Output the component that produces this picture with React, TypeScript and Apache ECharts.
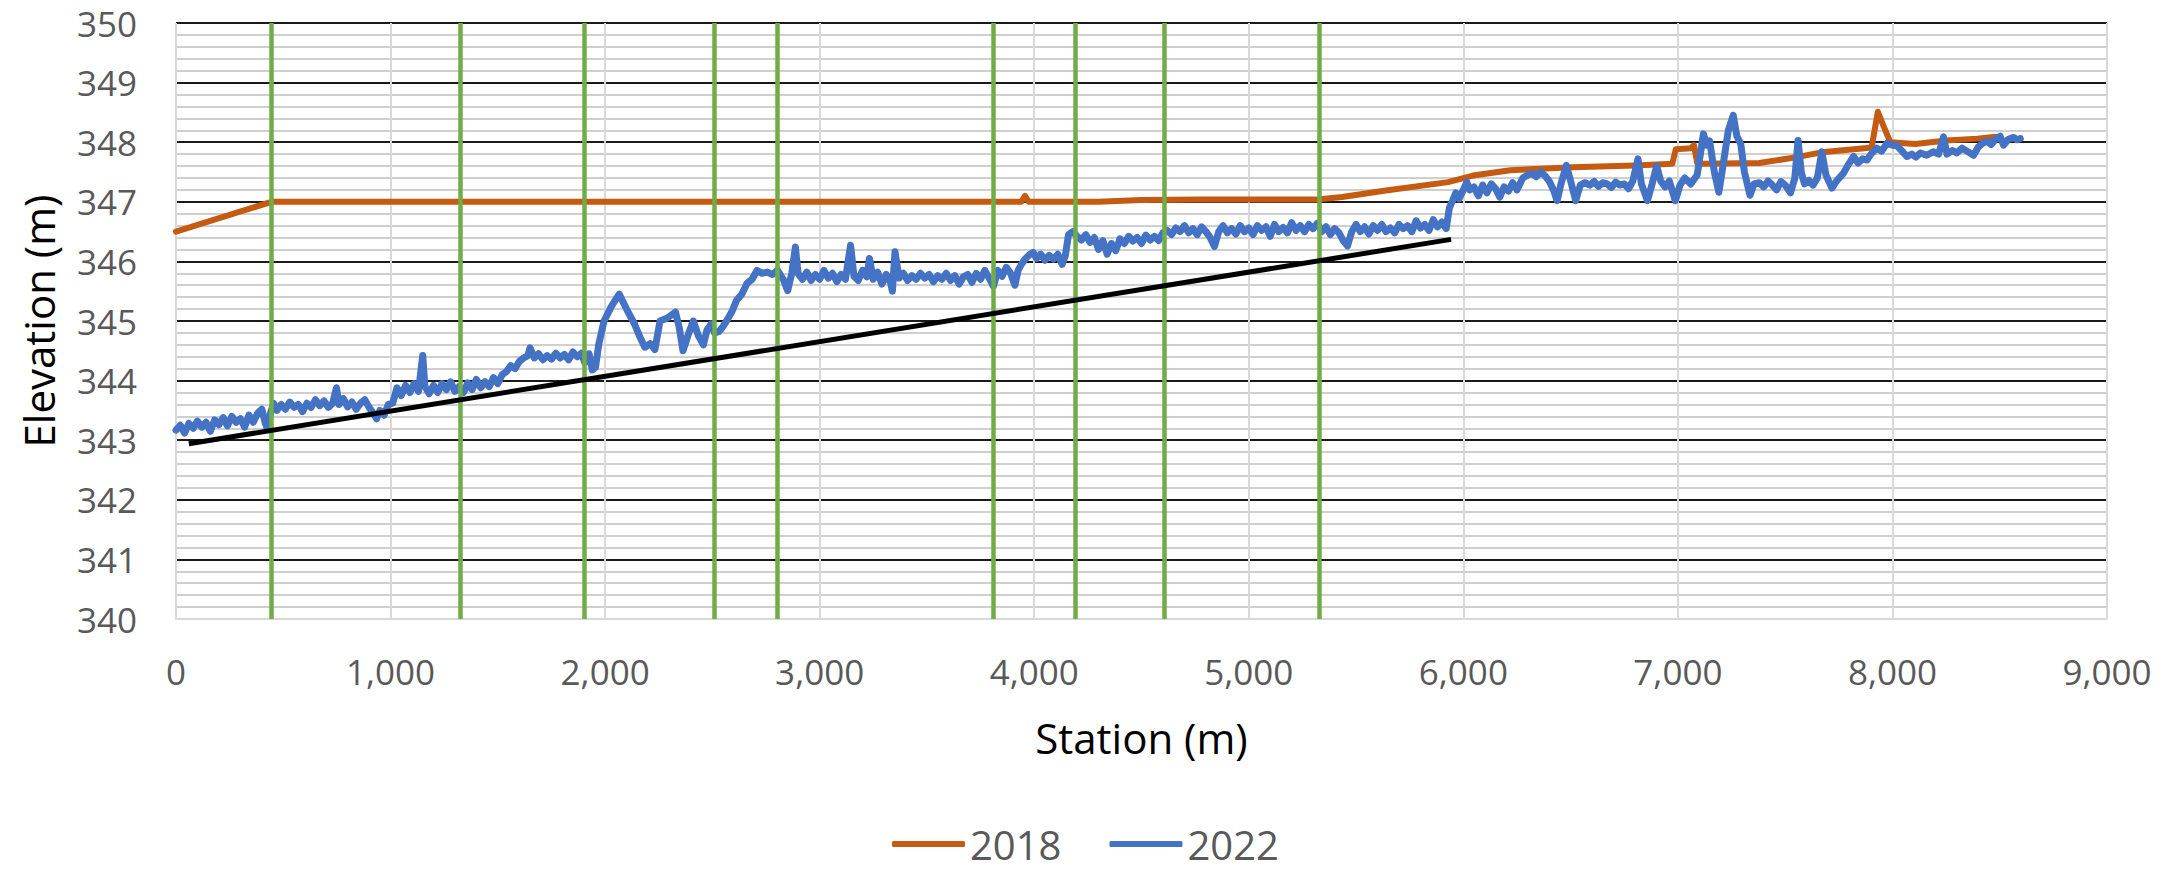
import React, { useEffect, useRef } from "react";
import * as echarts from "echarts";

// ---- Data ----
const yTicks = [340, 341, 342, 343, 344, 345, 346, 347, 348, 349, 350];
const xTicks = [0, 1000, 2000, 3000, 4000, 5000, 6000, 7000, 8000, 9000];

const markerStations = [445, 1325, 1905, 2508, 2804, 3810, 4189, 4608, 5328];

const gradeLine: [number, number][] = [
  [60, 342.94],
  [5943, 346.37],
];

const profile2018: [number, number][] = [
  [0, 346.5], [445, 347.0], [1000, 347.0], [2000, 347.0], [3000, 347.0],
  [3940, 347.0], [3957, 347.1], [3975, 347.0], [4300, 347.0], [4500, 347.03],
  [4770, 347.04], [5320, 347.04], [5435, 347.08], [5639, 347.19], [5929, 347.33],
  [6045, 347.44], [6219, 347.53], [6509, 347.58], [6800, 347.61], [6974, 347.64],
  [6990, 347.88], [7060, 347.9], [7075, 347.95], [7090, 347.65], [7119, 347.64],
  [7380, 347.65], [7554, 347.75], [7670, 347.83], [7845, 347.89], [7903, 347.91],
  [7932, 348.51], [7961, 348.25], [7990, 348.0], [8106, 347.97], [8251, 348.03],
  [8396, 348.06], [8480, 348.09],
];

const profile2022: [number, number][] = [
  [0, 343.17], [20, 343.25], [40, 343.12], [60, 343.28], [80, 343.2], [100, 343.32],
  [120, 343.22], [140, 343.3], [160, 343.15], [180, 343.34], [200, 343.26], [220, 343.38],
  [240, 343.24], [260, 343.4], [280, 343.3], [300, 343.36], [320, 343.22], [340, 343.42],
  [360, 343.3], [380, 343.45], [400, 343.52], [415, 343.3], [425, 343.2], [440, 343.45],
  [455, 343.62], [470, 343.5], [490, 343.6], [510, 343.52], [530, 343.64], [550, 343.55],
  [570, 343.6], [590, 343.48], [610, 343.62], [630, 343.55], [650, 343.68], [670, 343.58],
  [690, 343.66], [710, 343.55], [730, 343.62], [748, 343.88], [760, 343.6], [780, 343.7],
  [800, 343.56], [820, 343.64], [840, 343.52], [860, 343.62], [880, 343.68], [900, 343.55],
  [920, 343.45], [935, 343.36], [950, 343.5], [970, 343.42], [990, 343.6], [1010, 343.62],
  [1030, 343.88], [1050, 343.75], [1070, 343.92], [1090, 343.8], [1110, 343.95], [1130, 343.82],
  [1150, 344.42], [1160, 343.9], [1180, 343.78], [1200, 343.92], [1220, 343.8], [1240, 343.95],
  [1260, 343.85], [1280, 343.98], [1300, 343.82], [1320, 343.9], [1340, 343.8], [1360, 343.96],
  [1380, 343.85], [1400, 344.02], [1420, 343.88], [1440, 343.98], [1460, 343.9], [1480, 344.05],
  [1500, 343.95], [1520, 344.1], [1540, 344.15], [1560, 344.25], [1580, 344.2], [1600, 344.32],
  [1620, 344.38], [1640, 344.42], [1650, 344.55], [1670, 344.38], [1690, 344.45], [1710, 344.35],
  [1730, 344.42], [1750, 344.36], [1770, 344.46], [1790, 344.38], [1810, 344.44], [1830, 344.35],
  [1850, 344.48], [1870, 344.4], [1890, 344.46], [1905, 344.3], [1925, 344.45], [1940, 344.18],
  [1955, 344.22], [1970, 344.6], [1995, 345.0], [2030, 345.25], [2066, 345.45], [2100, 345.2],
  [2137, 344.95], [2160, 344.75], [2185, 344.56], [2210, 344.62], [2232, 344.52], [2256, 345.0],
  [2290, 345.05], [2328, 345.15], [2345, 344.9], [2363, 344.5], [2390, 344.8], [2411, 345.0],
  [2435, 344.75], [2458, 344.6], [2475, 344.85], [2494, 344.95], [2510, 344.8], [2530, 344.82],
  [2548, 344.9], [2566, 345.0], [2590, 345.15], [2613, 345.35], [2637, 345.45], [2661, 345.63],
  [2685, 345.7], [2708, 345.85], [2730, 345.8], [2756, 345.82], [2780, 345.78], [2804, 345.85],
  [2830, 345.7], [2851, 345.51], [2870, 345.8], [2887, 346.24], [2899, 345.8], [2920, 345.7],
  [2940, 345.82], [2960, 345.68], [2980, 345.78], [3000, 345.7], [3020, 345.85], [3040, 345.72],
  [3060, 345.8], [3080, 345.66], [3100, 345.78], [3120, 345.7], [3144, 346.27], [3160, 345.75],
  [3180, 345.68], [3200, 345.85], [3220, 345.74], [3232, 346.05], [3250, 345.7], [3270, 345.82],
  [3290, 345.62], [3310, 345.78], [3330, 345.65], [3339, 345.5], [3351, 346.16], [3370, 345.72],
  [3390, 345.8], [3410, 345.68], [3430, 345.76], [3450, 345.7], [3470, 345.8], [3490, 345.72],
  [3510, 345.78], [3530, 345.66], [3550, 345.76], [3570, 345.7], [3590, 345.8], [3610, 345.68],
  [3630, 345.76], [3650, 345.62], [3670, 345.74], [3690, 345.78], [3710, 345.65], [3730, 345.8],
  [3750, 345.7], [3770, 345.85], [3790, 345.72], [3810, 345.58], [3830, 345.85], [3850, 345.75],
  [3870, 345.9], [3890, 345.8], [3910, 345.6], [3925, 345.85], [3940, 345.95], [3960, 346.05],
  [3980, 346.12], [3995, 346.15], [4010, 346.05], [4030, 346.12], [4050, 346.02], [4070, 346.1],
  [4090, 346.04], [4110, 346.12], [4130, 345.95], [4145, 346.1], [4160, 346.45], [4180, 346.5],
  [4200, 346.42], [4220, 346.36], [4240, 346.45], [4260, 346.32], [4280, 346.4], [4300, 346.2],
  [4320, 346.35], [4340, 346.12], [4360, 346.3], [4380, 346.18], [4400, 346.38], [4420, 346.3],
  [4440, 346.42], [4460, 346.34], [4480, 346.4], [4500, 346.3], [4520, 346.44], [4540, 346.36],
  [4560, 346.42], [4580, 346.35], [4600, 346.48], [4620, 346.52], [4640, 346.45], [4660, 346.56],
  [4680, 346.5], [4700, 346.6], [4720, 346.48], [4740, 346.55], [4760, 346.45], [4780, 346.58],
  [4800, 346.5], [4820, 346.4], [4840, 346.25], [4860, 346.5], [4880, 346.6], [4900, 346.48],
  [4920, 346.55], [4940, 346.46], [4960, 346.6], [4980, 346.5], [5000, 346.56], [5020, 346.45],
  [5040, 346.6], [5060, 346.52], [5080, 346.58], [5100, 346.42], [5120, 346.62], [5140, 346.5],
  [5160, 346.57], [5180, 346.48], [5200, 346.65], [5220, 346.52], [5240, 346.6], [5260, 346.5],
  [5280, 346.62], [5300, 346.55], [5320, 346.64], [5340, 346.5], [5360, 346.58], [5380, 346.45],
  [5400, 346.55], [5420, 346.48], [5440, 346.35], [5460, 346.26], [5480, 346.5], [5500, 346.62],
  [5520, 346.5], [5540, 346.58], [5560, 346.46], [5580, 346.6], [5600, 346.52], [5620, 346.62],
  [5640, 346.5], [5660, 346.56], [5680, 346.48], [5700, 346.62], [5720, 346.55], [5740, 346.6],
  [5760, 346.5], [5780, 346.68], [5800, 346.56], [5820, 346.62], [5840, 346.52], [5860, 346.7],
  [5880, 346.58], [5900, 346.66], [5920, 346.55], [5935, 346.9], [5950, 347.02], [5965, 347.15],
  [5980, 347.05], [6000, 347.2], [6016, 347.33], [6030, 347.2], [6050, 347.25], [6070, 347.1],
  [6090, 347.28], [6110, 347.15], [6130, 347.3], [6150, 347.22], [6170, 347.08], [6190, 347.25],
  [6210, 347.18], [6230, 347.32], [6250, 347.2], [6277, 347.4], [6300, 347.45], [6320, 347.48],
  [6340, 347.42], [6360, 347.5], [6380, 347.44], [6400, 347.35], [6420, 347.2], [6437, 347.02],
  [6455, 347.3], [6480, 347.61], [6500, 347.35], [6524, 347.02], [6545, 347.28], [6567, 347.32],
  [6590, 347.28], [6610, 347.34], [6630, 347.26], [6650, 347.32], [6670, 347.3], [6690, 347.24],
  [6710, 347.33], [6730, 347.28], [6750, 347.3], [6770, 347.22], [6790, 347.35], [6814, 347.72],
  [6830, 347.3], [6858, 347.02], [6880, 347.3], [6901, 347.6], [6920, 347.35], [6940, 347.25],
  [6960, 347.35], [6988, 347.02], [7010, 347.28], [7032, 347.4], [7060, 347.3], [7090, 347.45],
  [7119, 348.14], [7135, 347.95], [7148, 348.02], [7170, 347.5], [7191, 347.16], [7210, 347.6],
  [7235, 348.2], [7258, 348.45], [7275, 348.1], [7293, 347.97], [7310, 347.5], [7336, 347.11],
  [7355, 347.3], [7380, 347.32], [7400, 347.25], [7420, 347.35], [7440, 347.28], [7460, 347.2],
  [7480, 347.34], [7500, 347.28], [7525, 347.15], [7545, 347.4], [7560, 348.03], [7575, 347.5],
  [7590, 347.3], [7610, 347.36], [7630, 347.28], [7650, 347.4], [7671, 347.84], [7690, 347.45],
  [7718, 347.23], [7740, 347.35], [7772, 347.48], [7790, 347.6], [7819, 347.76], [7840, 347.65],
  [7860, 347.72], [7881, 347.7], [7900, 347.8], [7927, 347.9], [7950, 347.85], [7974, 347.98],
  [8000, 347.95], [8021, 347.94], [8045, 347.85], [8067, 347.76], [8090, 347.8], [8110, 347.75],
  [8130, 347.82], [8160, 347.78], [8190, 347.84], [8215, 347.8], [8238, 348.09], [8254, 347.8],
  [8280, 347.86], [8300, 347.82], [8325, 347.9], [8347, 347.85], [8378, 347.78], [8400, 347.92],
  [8420, 347.98], [8440, 348.02], [8460, 347.96], [8480, 348.05], [8502, 348.1], [8518, 347.95],
  [8540, 348.05], [8565, 348.08], [8580, 348.04], [8596, 348.06],
];

const FONT = "'Open Sans', 'DejaVu Sans', sans-serif";

export default function App() {
  const ref = useRef<HTMLDivElement>(null);

  useEffect(() => {
    if (!ref.current) return;
    const chart = echarts.init(ref.current, undefined, { renderer: "svg" });
    const option: any = {
      animation: false,
      backgroundColor: "#ffffff",
      textStyle: { fontFamily: FONT },
      grid: {
        left: 176,
        right: 70,
        top: 23,
        bottom: 254,
        containLabel: false,
        outerBoundsMode: "none",
      },
      legend: {
        data: ["2018", "2022"],
        left: 892,
        top: 822,
        padding: 0,
        icon: "roundRect",
        itemWidth: 73,
        itemHeight: 6,
        itemGap: 48,
        textStyle: { fontFamily: FONT, fontSize: 40, lineHeight: 44, color: "#595959" },
      },
      xAxis: {
        type: "value",
        min: xTicks[0],
        max: xTicks[xTicks.length - 1],
        interval: 1000,
        name: "Station (m)",
        nameLocation: "middle",
        nameGap: 97,
        nameTextStyle: { fontFamily: FONT, fontSize: 42, color: "#000000" },
        axisLine: { show: true, lineStyle: { color: "#D9D9D9", width: 2 } },
        axisTick: { show: false },
        axisLabel: {
          fontFamily: FONT,
          fontSize: 35,
          color: "#595959",
          margin: 35,
          formatter: (v: number) => v.toLocaleString("en-US"),
        },
        splitLine: { show: true, lineStyle: { color: "#D9D9D9", width: 2 } },
      },
      yAxis: {
        type: "value",
        min: yTicks[0],
        max: yTicks[yTicks.length - 1],
        interval: 1,
        name: "Elevation (m)",
        nameLocation: "middle",
        nameGap: 117,
        nameTextStyle: { fontFamily: FONT, fontSize: 42, color: "#000000" },
        axisLine: { show: false },
        axisTick: { show: false },
        minorTick: { show: false, splitNumber: 5 },
        minorSplitLine: { show: true, lineStyle: { color: "#CFCFCF", width: 2 } },
        axisLabel: { fontFamily: FONT, fontSize: 35, color: "#595959", margin: 39 },
        splitLine: {
          show: true,
          showMinLine: false,
          lineStyle: { color: "#1a1a1a", width: 2 },
        },
      },
      series: [
        {
          name: "2018",
          type: "line",
          data: profile2018,
          showSymbol: false,
          symbol: "none",
          color: "#C55A11",
          lineStyle: { color: "#C55A11", width: 6, cap: "round", join: "round" },
          z: 2,
        },
        {
          name: "2022",
          type: "line",
          data: profile2022,
          showSymbol: false,
          symbol: "none",
          color: "#4472C4",
          lineStyle: { color: "#4472C4", width: 7, cap: "round", join: "round" },
          z: 3,
        },
        {
          name: "markers",
          type: "line",
          data: [],
          showSymbol: false,
          symbol: "none",
          z: 4,
          markLine: {
            silent: true,
            symbol: ["none", "none"],
            label: { show: false },
            emphasis: { disabled: true },
            lineStyle: { color: "#70AD47", width: 4.5, type: "solid" },
            data: markerStations.map((s) => ({ xAxis: s })),
          },
        },
        {
          name: "grade",
          type: "line",
          data: gradeLine,
          showSymbol: false,
          symbol: "none",
          color: "#000000",
          lineStyle: { color: "#000000", width: 5 },
          z: 5,
        },
      ],
    };
    chart.setOption(option);
    return () => chart.dispose();
  }, []);

  return (
    <div
      ref={ref}
      style={{ position: "absolute", left: 0, top: 0, width: 2177, height: 873 }}
    />
  );
}
